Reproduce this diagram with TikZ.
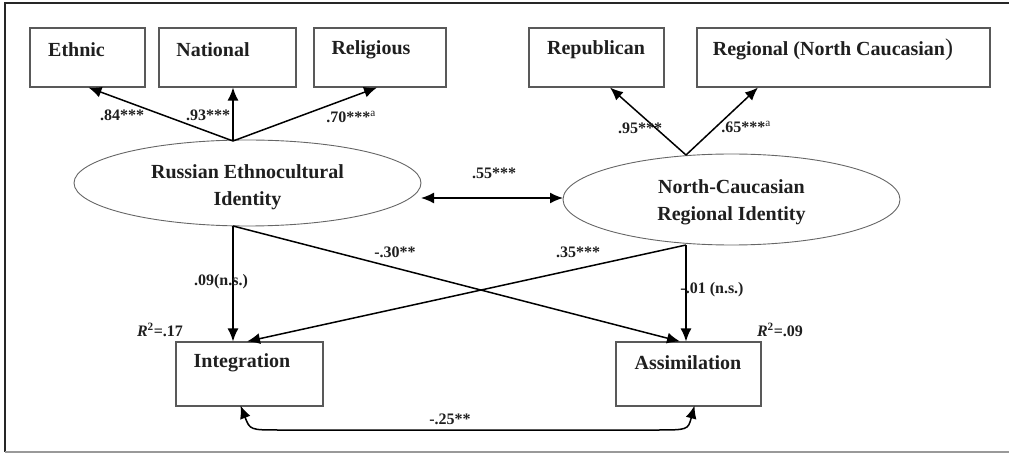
\documentclass[tikz,border=0pt]{standalone}
\usepackage{fontspec}
\setmainfont{Liberation Serif}
\usetikzlibrary{arrows.meta,shapes.geometric,calc}
\begin{document}
\begin{tikzpicture}[x=1pt,y=-1pt,
  obsbox/.style={draw=black!65,line width=1.1pt,rectangle,inner sep=0pt},
  latent/.style={draw=black!60,line width=0.9pt,ellipse,inner sep=0pt},
  boxtext/.style={font=\fontsize{20}{24}\selectfont\bfseries,text=black!88,inner sep=0pt},
  lbl/.style={font=\fontsize{16}{18}\selectfont\bfseries,text=black!88,inner sep=0pt},
  path/.style={line width=1.5pt,-{Latex[length=13pt,width=11pt]}},
  covpath/.style={line width=1.5pt,{Latex[length=13pt,width=11pt]}-{Latex[length=13pt,width=11pt]}}
]
\useasboundingbox (0,0) rectangle (1009,454);
% frame
\draw[line width=1.5pt,black!85] (1009,3) -- (5,3) -- (5,452);
\draw[line width=1.2pt,black!40] (5,452) -- (1009,452);

% indicator boxes
\node[obsbox,minimum width=115pt,minimum height=59pt] (eth) at (87.5,57.5) {};
\node[obsbox,minimum width=137pt,minimum height=59pt] (nat) at (227.5,57.5) {};
\node[obsbox,minimum width=132pt,minimum height=59pt] (rel) at (380,57.5) {};
\node[obsbox,minimum width=135pt,minimum height=59pt] (rep) at (596.5,57.5) {};
\node[obsbox,minimum width=293pt,minimum height=59pt] (reg) at (843.5,57.5) {};
\node[boxtext] (teth) at (76.5,50) {Ethnic};
\node[boxtext] (tnat) at (213,50) {National};
\node[boxtext] (trel) at (371,50) {Religious};
\node[boxtext] (trep) at (596,50) {Republican};
\node[boxtext] (treg) at (833,50) {Regional (North Caucasian{\fontsize{24}{24}\selectfont\mdseries)}};

% outcome boxes
\node[obsbox,minimum width=147pt,minimum height=64pt] (int) at (249.5,374) {};
\node[obsbox,minimum width=145pt,minimum height=64pt] (asm) at (688.5,374) {};
\node[boxtext] (tint) at (242,363) {Integration};
\node[boxtext] (tasm) at (688,363) {Assimilation};

% latent variables
\node[latent,minimum width=347pt,minimum height=86pt] (e1) at (247.5,183) {};
\node[latent,minimum width=337pt,minimum height=91pt] (e2) at (731.5,199.5) {};
\node[boxtext,align=center,font=\fontsize{20}{27}\selectfont\bfseries] (te1) at (247.5,187) {Russian Ethnocultural\\Identity};
\node[boxtext,align=center,font=\fontsize{20}{27}\selectfont\bfseries] (te2) at (731.5,202) {North-Caucasian\\Regional Identity};

% anchor coordinates
\coordinate (e1t) at (233,141);
\coordinate (e1b) at (233,226);
\coordinate (e2t) at (686,155);
\coordinate (e2b) at (686,245);

% loadings
\draw[path] (e1t) -- ([xshift=1pt]eth.south);
\draw[path] (e1t) -- (e1t |- nat.south);
\draw[path] (e1t) -- ([xshift=-3pt]rel.south);
\draw[path] (e2t) -- (610,0 |- rep.south);
\draw[path] (e2t) -- (758,0 |- reg.south);

% covariance between latents
\draw[covpath] (421,198) -- (563,198);

% structural paths
\draw[path] (e1b) -- (e1b |- int.north);
\draw[path] (e1b) -- (680,0 |- asm.north);
\draw[path] (e2b) -- (e2b |- asm.north);
\draw[path] (e2b) -- (247,0 |- int.north);

% residual covariance
\draw[covpath] ([xshift=-9pt,yshift=1pt]int.south) .. controls (250,430) .. (280,430) -- (655,430) .. controls (688,430) .. ([xshift=6pt,yshift=1pt]asm.south);

% labels
\node[lbl] (l84) at (122,115) {.84***};
\node[lbl] (l93) at (208,115) {.93***};
\node[lbl] (l70) at (351,117) {.70***\textsuperscript{\mdseries a}};
\node[lbl] (l95) at (640,128) {.95***};
\node[lbl] (l65) at (746,127) {.65***\textsuperscript{\mdseries a}};
\node[lbl] (l55) at (494,173) {.55***};
\node[lbl] (l09) at (221,282) {.09(n.s.)};
\node[lbl] (l30) at (395,252) {-.30**};
\node[lbl] (l35) at (578,252) {.35***};
\node[lbl] (l01) at (712,290) {-.01 (n.s.)};
\node[lbl] (r17) at (160,330) {\textit{R}\textsuperscript{2}=.17};
\node[lbl] (r09) at (780,330) {\textit{R}\textsuperscript{2}=.09};
\node[lbl] (l25) at (450,419) {-.25**};
\end{tikzpicture}
\end{document}
